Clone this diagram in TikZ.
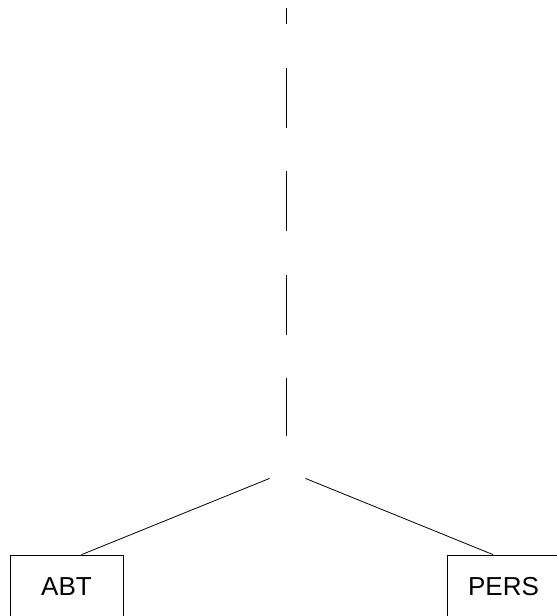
\documentclass[tikz,border=0pt]{standalone}
\usepackage{fontspec}
\setmainfont{Liberation Sans}

\begin{document}
\begin{tikzpicture}[x=0.5pt, y=-0.5pt, every node/.style={draw, rectangle, minimum width=56.5pt, minimum height=32pt, inner sep=0pt, font=\fontsize{13}{15}\selectfont}]
\useasboundingbox (0,0) rectangle (557,616);
\clip (0,0) rectangle (557,616);
\coordinate (T1N2) at (286,8);
\node[draw=none, minimum width=17.5pt, minimum height=21pt] (T1N0) at (287.5,457) {};
\node (T1N1) at (66.5,587) {ABT};
\node (T1N3) at (503.5,587) {PERS};
\draw[dash pattern=on 30pt off 21.8pt, dash phase=22pt] (T1N2) -- (T1N0.north -| T1N2);
\draw (T1N0.south west) -- (T1N1.65);
\draw (T1N0.south east) -- (T1N3.108);
\end{tikzpicture}
\end{document}
